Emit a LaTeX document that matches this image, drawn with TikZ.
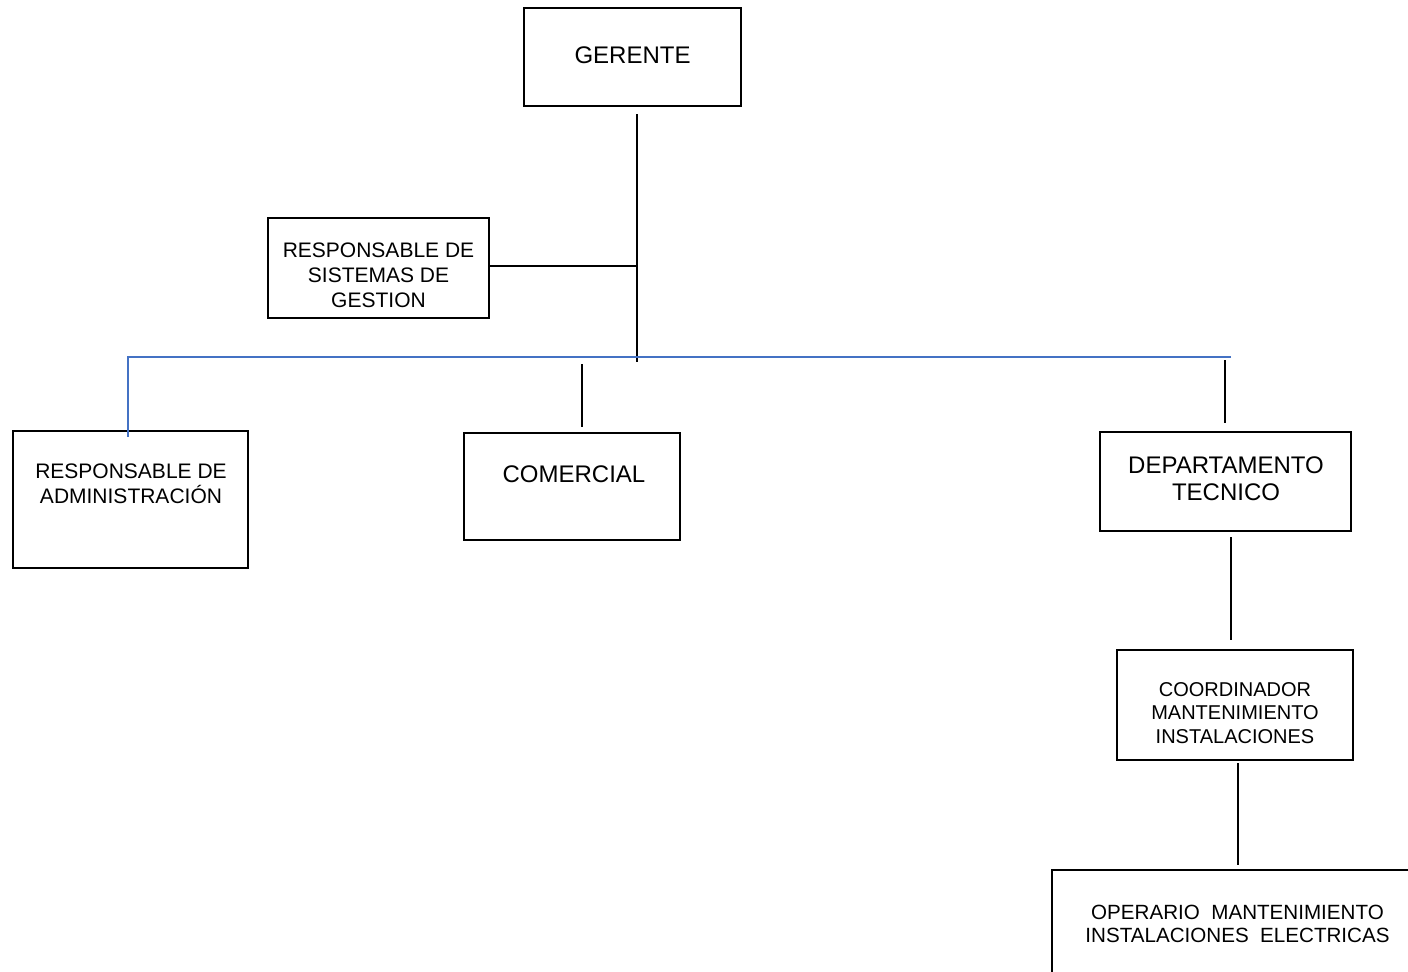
\documentclass[tikz,border=0pt]{standalone}
\usepackage{fontspec}
\setmainfont{Liberation Sans}
\definecolor{lineblue}{RGB}{68,114,196}
\begin{document}
\begin{tikzpicture}[x=0.5pt,y=-0.5pt,
  box/.style={draw,line width=1pt,rectangle,inner sep=0pt},
  conn/.style={line width=1pt,draw=black},
  bconn/.style={line width=1pt,draw=lineblue},
  lbl/.style={anchor=base,align=center,inner sep=0pt}]
\useasboundingbox (0,0) rectangle (1408,971);
\clip (0,0) rectangle (1408,971);
% boxes
\node[box,minimum width=108.5pt,minimum height=49pt] (ger) at (632.5,57) {};
\node[box,minimum width=110.5pt,minimum height=50pt] (rsg) at (378.5,268) {};
\node[box,minimum width=117.5pt,minimum height=68.5pt] (adm) at (130.5,499.5) {};
\node[box,minimum width=108pt,minimum height=53.5pt] (com) at (572,486.5) {};
\node[box,minimum width=125.5pt,minimum height=49.5pt] (dep) at (1225.5,481.5) {};
\node[box,minimum width=118pt,minimum height=55pt] (coo) at (1235,705) {};
\node[box,minimum width=194pt,minimum height=65pt] (ope) at (1246,935) {};
% texts (base anchor = baseline of the last line)
\node[lbl,font=\fontsize{12}{14}\selectfont] (tger) at (632.5,63) {GERENTE};
\node[lbl,font=\fontsize{10.5}{12.5}\selectfont] (trsg) at (378.5,307) {RESPONSABLE DE\\SISTEMAS DE\\GESTION};
\node[lbl,font=\fontsize{10.5}{12.5}\selectfont] (tadm) at (131,503) {RESPONSABLE DE\\ADMINISTRACIÓN};
\node[lbl,font=\fontsize{12}{14}\selectfont] (tcom) at (574,482) {COMERCIAL};
\node[lbl,font=\fontsize{12}{13.5}\selectfont] (tdep) at (1226,500) {DEPARTAMENTO\\TECNICO};
\node[lbl,font=\fontsize{10}{11.75}\selectfont] (tcoo) at (1235,743) {COORDINADOR\\MANTENIMIENTO\\INSTALACIONES};
\node[lbl,font=\fontsize{10.3}{11.25}\selectfont] (tope) at (1237.5,942) {OPERARIO\ \ MANTENIMIENTO\\INSTALACIONES\ \ ELECTRICAS};
% connector points
\coordinate (gA) at (637,114);
\coordinate (gB) at (637,362);
\coordinate (jr) at (637,266);
\coordinate (bl) at (128,357);
\coordinate (br) at (1231,357);
\coordinate (ba) at (128,437);
\coordinate (c1) at (582,364);
\coordinate (c2) at (582,427);
\coordinate (d1) at (1225,360);
\coordinate (d2) at (1225,423);
\coordinate (e1) at (1231,537);
\coordinate (e2) at (1231,640);
\coordinate (f1) at (1238,763);
\coordinate (f2) at (1238,865);
% connectors
\draw[conn] (gA) -- (gB);
\draw[conn] (rsg.east |- jr) -- (jr);
\draw[bconn] (br) -- (bl) -- (ba);
\draw[conn] (c1) -- (c2);
\draw[conn] (d1) -- (d2);
\draw[conn] (e1) -- (e2);
\draw[conn] (f1) -- (f2);
\end{tikzpicture}
\end{document}
